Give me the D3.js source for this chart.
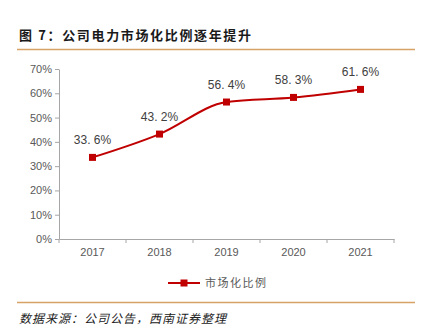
<!DOCTYPE html>
<html><head><meta charset="utf-8">
<script src="https://cdn.jsdelivr.net/npm/d3@7"></script>
<style>body{margin:0;background:#fff}svg{display:block}</style>
</head><body>
<svg id="c" width="423" height="335"></svg>
<script>
const years = ["2017","2018","2019","2020","2021"];
const values = [33.6, 43.2, 56.4, 58.3, 61.6];
const yTicks = [0,10,20,30,40,50,60,70];
const seriesName = "市场化比例";
const title = "图 7：公司电力市场化比例逐年提升";
const source = "数据来源：公司公告，西南证券整理";

const svg = d3.select("#c");
const font = "'Noto Sans CJK SC','Noto Sans',sans-serif";
const latin = "'Liberation Sans',Arial,sans-serif";

svg.append("text").attr("x",19).attr("y",40).text(title)
  .attr("font-family",font).attr("font-weight","bold").attr("font-size",13)
  .attr("letter-spacing",1.65).attr("fill","#1a1a1a");
svg.append("line").attr("x1",17).attr("x2",415).attr("y1",49.5).attr("y2",49.5)
  .attr("stroke","#D6A266").attr("stroke-width",1.5);
svg.append("line").attr("x1",17).attr("x2",415).attr("y1",302.5).attr("y2",302.5)
  .attr("stroke","#D6A266").attr("stroke-width",1.5);
svg.append("text").attr("x",19).attr("y",323).text(source)
  .attr("font-family",font).attr("font-style","italic").attr("font-size",12)
  .attr("letter-spacing",1).attr("fill","#222");

const x = d3.scaleBand().domain(years).range([59,394]);
const y = d3.scaleLinear().domain([0,70]).range([239,69]);

const gy = svg.append("g").attr("transform","translate(59,0)")
  .call(d3.axisLeft(y).tickValues(yTicks).tickFormat(d=>d+"%").tickSize(4).tickSizeOuter(0));
const gx = svg.append("g").attr("transform","translate(0,239)")
  .call(d3.axisBottom(x).tickSize(0).tickSizeOuter(0));
const bounds = years.map(d=>x(d)).concat([x.range()[1]]);
svg.append("g").selectAll("line").data(bounds).join("line")
  .attr("x1",d=>d).attr("x2",d=>d).attr("y1",239).attr("y2",243)
  .attr("stroke","#A6A6A6");
[gy,gx].forEach(g=>{
  g.selectAll(".domain").attr("stroke","#A6A6A6");
  g.selectAll(".tick line").attr("stroke","#A6A6A6");
  g.selectAll("text").attr("font-family",latin).attr("font-size",11).attr("fill","#595959");
});
gx.selectAll("text").attr("dy","1.25em");

const cx = d=>x(d)+x.bandwidth()/2;
const data = years.map((d,i)=>({k:d,v:values[i]}));
const line = d3.line().x(d=>cx(d.k)).y(d=>y(d.v)).curve(d3.curveMonotoneX);
svg.append("path").datum(data).attr("d",line).attr("fill","none")
  .attr("stroke","#C00000").attr("stroke-width",2);
svg.selectAll("rect.m").data(data).join("rect").attr("class","m")
  .attr("x",d=>cx(d.k)-3.5).attr("y",d=>y(d.v)-3.5).attr("width",7).attr("height",7)
  .attr("fill","#C00000");
svg.selectAll("text.lbl").data(data).join("text").attr("class","lbl")
  .attr("x",d=>cx(d.k)).attr("y",d=>y(d.v)-13).attr("text-anchor","middle")
  .text(d=>d.v.toFixed(1).replace(".",". ")+"%")
  .attr("font-family",latin).attr("font-size",12).attr("fill","#404040");

const lg = svg.append("g");
lg.append("line").attr("x1",168).attr("x2",200).attr("y1",283).attr("y2",283)
  .attr("stroke","#C00000").attr("stroke-width",2);
lg.append("rect").attr("x",180.5).attr("y",279.5).attr("width",7).attr("height",7).attr("fill","#C00000");
lg.append("text").attr("x",205).attr("y",287).text(seriesName)
  .attr("font-family",font).attr("font-size",11).attr("letter-spacing",1.5).attr("fill","#595959");
</script>
</body></html>
